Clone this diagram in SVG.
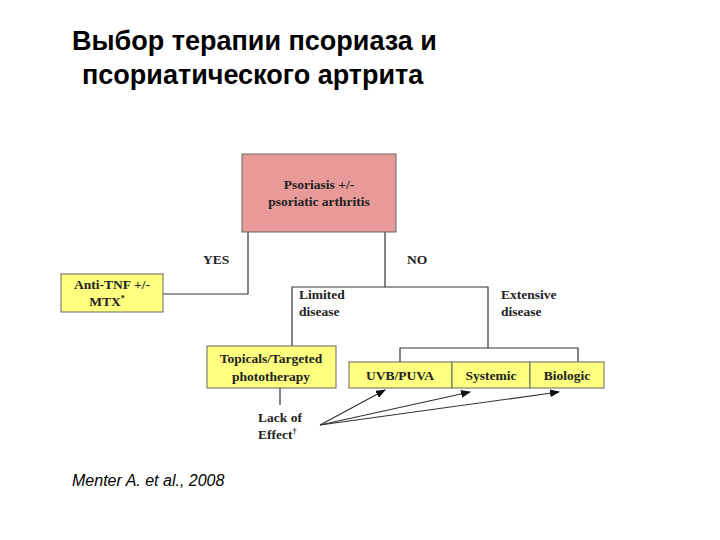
<svg xmlns="http://www.w3.org/2000/svg" width="720" height="540" viewBox="0 0 720 540">
<style>
.t{font-family:"Liberation Serif",serif;font-weight:bold;font-size:13.5px;fill:#222}
.box{fill:#ffff80;stroke:#666;stroke-width:1}
.ln{stroke:#333;stroke-width:1.2;fill:none}
.ti{font-family:"Liberation Sans",Arial,sans-serif;font-weight:bold;font-size:27px;fill:#000}
</style>
<defs><marker id="ah" markerWidth="10" markerHeight="8" refX="9" refY="4" orient="auto" markerUnits="userSpaceOnUse"><path d="M0,0L10,4L0,8z" fill="#111"/></marker></defs>
<rect width="720" height="540" fill="#fff"/>
<text class="ti" x="72" y="50">Выбор терапии псориаза и</text>
<text class="ti" x="82" y="84">псориатического артрита</text>
<g id="connectors">
<path class="ln" d="M248,232V294H163"/>
<path class="ln" d="M385,232V287"/>
<path class="ln" d="M292,348V287H488V348"/>
<path class="ln" d="M400,362V348H578V362"/>
<path class="ln" d="M280,388V405"/>
<path class="ln" d="M320,425L385,390" marker-end="url(#ah)"/>
<path class="ln" d="M320,425L470,392" marker-end="url(#ah)"/>
<path class="ln" d="M320,425L559,392" marker-end="url(#ah)"/>
</g>
<g id="root"><rect x="242" y="154" width="154" height="78" fill="#e89a98" stroke="#666"/>
<text class="t" x="319" y="189" text-anchor="middle">Psoriasis +/-</text>
<text class="t" x="319" y="206" text-anchor="middle">psoriatic arthritis</text></g>
<g id="antitnf"><rect class="box" x="61" y="274" width="102" height="38"/>
<text class="t" x="112" y="289" text-anchor="middle">Anti-TNF +/-</text>
<text class="t" x="107" y="306" text-anchor="middle">MTX<tspan font-size="8" dy="-5">*</tspan></text></g>
<text class="t" x="203" y="264">YES</text>
<text class="t" x="407" y="264">NO</text>
<g id="limited"><text class="t" x="299" y="299">Limited</text><text class="t" x="299" y="316">disease</text></g>
<g id="extensive"><text class="t" x="501" y="299">Extensive</text><text class="t" x="501" y="316">disease</text></g>
<g id="topicals"><rect class="box" x="207" y="346" width="129" height="42"/>
<text class="t" x="271" y="363" text-anchor="middle">Topicals/Targeted</text>
<text class="t" x="271" y="381" text-anchor="middle">phototherapy</text></g>
<g id="uvb"><rect class="box" x="349" y="362" width="103" height="26"/><text class="t" x="400" y="380" text-anchor="middle">UVB/PUVA</text></g>
<g id="systemic"><rect class="box" x="452" y="362" width="78" height="26"/><text class="t" x="491" y="380" text-anchor="middle">Systemic</text></g>
<g id="biologic"><rect class="box" x="530" y="362" width="74" height="26"/><text class="t" x="567" y="380" text-anchor="middle">Biologic</text></g>
<g id="lack"><text class="t" x="258" y="422">Lack of</text><text class="t" x="258" y="439">Effect<tspan font-size="8" dy="-5">†</tspan></text></g>
<text x="72" y="486" font-family="Liberation Sans,Arial,sans-serif" font-style="italic" font-size="16">Menter A. et al., 2008</text>
</svg>
